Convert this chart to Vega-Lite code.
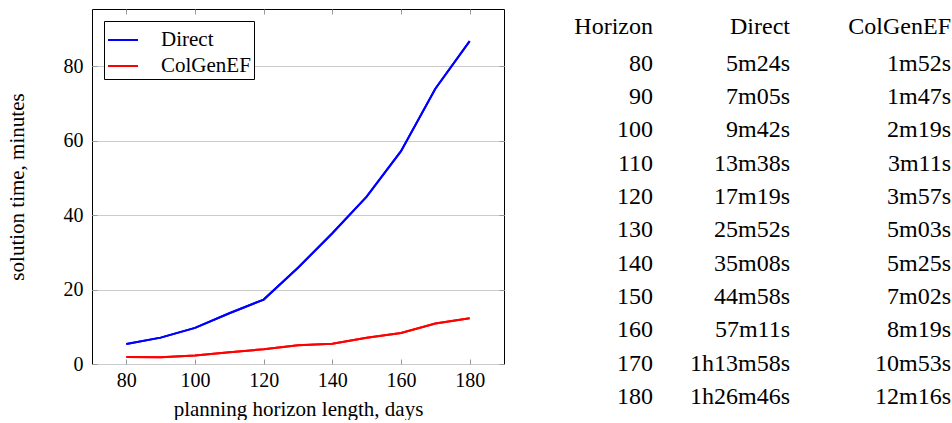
{
  "$schema": "https://vega.github.io/schema/vega-lite/v6.json",
  "padding": {"left": 5, "top": 8, "right": 0, "bottom": 0},
  "autosize": {"type": "pad"},
  "bounds": "flush",
  "spacing": 0,
  "config": {
    "font": "Liberation Serif",
    "view": {"stroke": null},
    "axis": {"labelFont": "Liberation Serif", "titleFont": "Liberation Serif", "labelColor": "#000", "titleColor": "#000", "titleFontWeight": "normal"},
    "legend": {"labelFont": "Liberation Serif"},
    "text": {"font": "Liberation Serif"},
    "title": {"font": "Liberation Serif", "fontWeight": "normal", "fontSize": 24, "color": "#000"}
  },
  "data": {
    "values": [
      {"horizon": 80, "Direct": 5.4, "ColGenEF": 1.867, "direct_t": "5m24s", "colgen_t": "1m52s"},
      {"horizon": 90, "Direct": 7.083, "ColGenEF": 1.783, "direct_t": "7m05s", "colgen_t": "1m47s"},
      {"horizon": 100, "Direct": 9.7, "ColGenEF": 2.317, "direct_t": "9m42s", "colgen_t": "2m19s"},
      {"horizon": 110, "Direct": 13.633, "ColGenEF": 3.183, "direct_t": "13m38s", "colgen_t": "3m11s"},
      {"horizon": 120, "Direct": 17.317, "ColGenEF": 3.95, "direct_t": "17m19s", "colgen_t": "3m57s"},
      {"horizon": 130, "Direct": 25.867, "ColGenEF": 5.05, "direct_t": "25m52s", "colgen_t": "5m03s"},
      {"horizon": 140, "Direct": 35.133, "ColGenEF": 5.417, "direct_t": "35m08s", "colgen_t": "5m25s"},
      {"horizon": 150, "Direct": 44.967, "ColGenEF": 7.033, "direct_t": "44m58s", "colgen_t": "7m02s"},
      {"horizon": 160, "Direct": 57.183, "ColGenEF": 8.317, "direct_t": "57m11s", "colgen_t": "8m19s"},
      {"horizon": 170, "Direct": 73.967, "ColGenEF": 10.883, "direct_t": "1h13m58s", "colgen_t": "10m53s"},
      {"horizon": 180, "Direct": 86.767, "ColGenEF": 12.267, "direct_t": "1h26m46s", "colgen_t": "12m16s"}
    ]
  },
  "hconcat": [
    {
      "width": 412,
      "height": 355,
      "view": {"stroke": "#000", "strokeWidth": 1},
      "transform": [{"fold": ["Direct", "ColGenEF"], "as": ["method", "minutes"]}],
      "resolve": {"axis": {"x": "independent", "y": "independent"}},
      "layer": [
        {
          "mark": {"type": "line", "strokeWidth": 2},
          "encoding": {
            "x": {"field": "horizon", "type": "quantitative", "scale": {"domain": [70, 190], "nice": false},
              "axis": {"orient": "bottom", "values": [80, 100, 120, 140, 160, 180], "title": "planning horizon length, days", "domain": false, "grid": false, "tickSize": -5, "tickColor": "#999", "labelPadding": 11, "labelFontSize": 20, "titleFontSize": 21, "titlePadding": 8}},
            "y": {"field": "minutes", "type": "quantitative", "scale": {"domain": [0, 95.4], "nice": false},
              "axis": {"orient": "left", "values": [0, 20, 40, 60, 80], "title": "solution time, minutes", "domain": false, "grid": true, "gridColor": "#cccccc", "tickSize": -5, "tickColor": "#999", "labelPadding": 14, "labelFontSize": 20, "titleFontSize": 21, "titlePadding": 36}},
            "color": {"field": "method", "type": "nominal", "scale": {"domain": ["Direct", "ColGenEF"], "range": ["#0000ff", "#ff0000"]},
              "legend": {"title": null, "orient": "top-left", "offset": 12, "strokeColor": "#000", "fillColor": "#fff", "padding": 3, "symbolType": "stroke", "symbolStrokeWidth": 2, "symbolSize": 900, "labelOffset": 22, "labelFontSize": 21, "labelFont": "Liberation Serif", "labelColor": "#000", "rowPadding": 0, "cornerRadius": 0}}
          }
        },
        {
          "mark": {"type": "line", "strokeWidth": 2},
          "encoding": {
            "x": {"field": "horizon", "type": "quantitative",
              "axis": {"orient": "top", "values": [80, 100, 120, 140, 160, 180], "title": null, "labels": false, "domain": false, "grid": false, "tickSize": -5, "tickColor": "#999"}},
            "y": {"field": "minutes", "type": "quantitative",
              "axis": {"orient": "right", "values": [0, 20, 40, 60, 80], "title": null, "labels": false, "domain": false, "grid": false, "tickSize": -5, "tickColor": "#999"}},
            "color": {"field": "method", "type": "nominal"}
          }
        }
      ]
    },
    {
      "width": 149,
      "height": 400,
      "title": {"text": "Horizon", "anchor": "end", "offset": -30},
      "mark": {"type": "text", "align": "right", "baseline": "middle", "fontSize": 24, "font": "Liberation Serif", "color": "#000"},
      "encoding": {
        "x": {"value": "width"},
        "y": {"field": "horizon", "type": "ordinal", "scale": {"type": "point", "padding": 1.26, "align": 0.82}, "axis": null},
        "text": {"field": "horizon", "type": "quantitative"}
      }
    },
    {
      "width": 137,
      "height": 400,
      "title": {"text": "Direct", "anchor": "end", "offset": -30},
      "mark": {"type": "text", "align": "right", "baseline": "middle", "fontSize": 24, "font": "Liberation Serif", "color": "#000"},
      "encoding": {
        "x": {"value": "width"},
        "y": {"field": "horizon", "type": "ordinal", "scale": {"type": "point", "padding": 1.26, "align": 0.82}, "axis": null},
        "text": {"field": "direct_t", "type": "nominal"}
      }
    },
    {
      "width": 161,
      "height": 400,
      "title": {"text": "ColGenEF", "anchor": "end", "offset": -30},
      "mark": {"type": "text", "align": "right", "baseline": "middle", "fontSize": 24, "font": "Liberation Serif", "color": "#000"},
      "encoding": {
        "x": {"value": "width"},
        "y": {"field": "horizon", "type": "ordinal", "scale": {"type": "point", "padding": 1.26, "align": 0.82}, "axis": null},
        "text": {"field": "colgen_t", "type": "nominal"}
      }
    }
  ]
}
